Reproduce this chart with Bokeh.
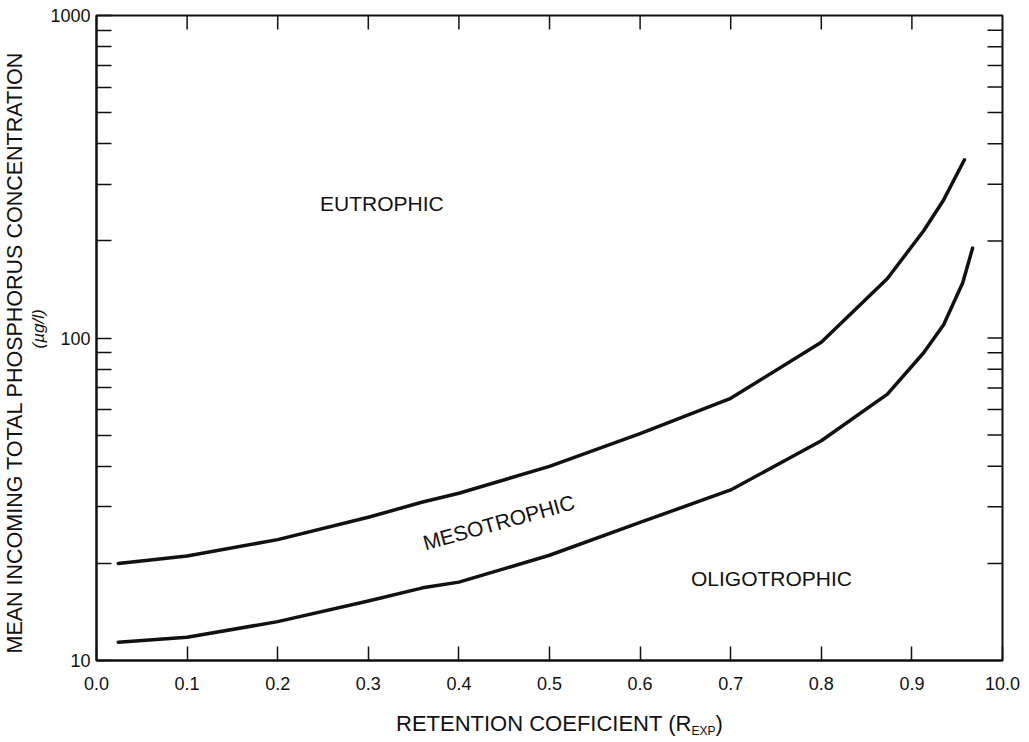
import math

from bokeh.plotting import figure
from bokeh.layouts import column
from bokeh.models import Div, FixedTicker, Label, Range1d, Title
from bokeh.embed import file_html
from bokeh.resources import INLINE

# Boundary curves: retention coefficient vs. mean incoming total P (ug/l)
retention_upper = [0.024, 0.1, 0.2, 0.3, 0.36, 0.4, 0.5, 0.6, 0.7, 0.8, 0.873, 0.913, 0.935, 0.958]
phosphorus_upper = [20.0, 21.1, 23.7, 27.8, 31.0, 33.0, 40.0, 50.5, 65.0, 97.0, 153.0, 215.0, 268.0, 357.0]

retention_lower = [0.024, 0.1, 0.2, 0.3, 0.36, 0.4, 0.5, 0.6, 0.7, 0.8, 0.873, 0.913, 0.935, 0.956, 0.967]
phosphorus_lower = [11.4, 11.8, 13.2, 15.3, 16.8, 17.5, 21.2, 26.8, 33.8, 48.0, 67.0, 90.0, 110.0, 148.0, 190.0]

# Axis ticks and labels
x_ticks = [0.0, 0.1, 0.2, 0.3, 0.4, 0.5, 0.6, 0.7, 0.8, 0.9, 1.0]
x_tick_labels = ["0.0", "0.1", "0.2", "0.3", "0.4", "0.5", "0.6", "0.7", "0.8", "0.9", "10.0"]
y_major = [10, 100, 1000]
y_tick_labels = ["10", "100", "1000"]
y_minor = [20, 30, 40, 50, 60, 70, 80, 90, 200, 300, 400, 500, 600, 700, 800, 900]

# Trophic zone names
zone_names = ["EUTROPHIC", "MESOTROPHIC", "OLIGOTROPHIC"]

INK = "#111111"
TICK_FONT = "Liberation Sans"
TEXT_FONT = "Liberation Sans"

X0, X1 = 0.0, 1.0
Y0, Y1 = 10, 1000

p = figure(
    width=1029, height=700,
    y_axis_type="log",
    x_range=Range1d(X0, X1), y_range=Range1d(Y0, Y1),
    output_backend="svg", toolbar_location=None,
    min_border_left=94, min_border_right=27,
    min_border_top=15, min_border_bottom=40,
    background_fill_color="white", border_fill_color="white",
)
p.xgrid.visible = False
p.ygrid.visible = False
p.outline_line_color = INK
p.outline_line_width = 2

# bottom axis
xb = p.xaxis[0]
xb.ticker = FixedTicker(ticks=x_ticks)
xb.major_label_overrides = {t: s for t, s in zip(x_ticks, x_tick_labels)}
xb.major_tick_in = 14
xb.major_tick_out = 0
xb.minor_tick_line_color = None
xb.axis_line_color = INK
xb.axis_line_width = 2
xb.major_tick_line_color = INK
xb.major_tick_line_width = 1.5
xb.major_label_text_font = TICK_FONT
xb.major_label_text_font_size = "18px"
xb.major_label_text_color = INK
xb.major_label_standoff = 16

# left axis
yl = p.yaxis[0]
yl.ticker = FixedTicker(ticks=y_major, minor_ticks=y_minor)
yl.major_label_overrides = {t: s for t, s in zip(y_major, y_tick_labels)}
yl.major_tick_in = 15
yl.major_tick_out = 0
yl.minor_tick_in = 15
yl.minor_tick_out = 0
yl.axis_line_color = INK
yl.axis_line_width = 2
yl.major_tick_line_color = INK
yl.minor_tick_line_color = INK
yl.major_tick_line_width = 1.5
yl.minor_tick_line_width = 1.5
yl.major_label_text_font = TICK_FONT
yl.major_label_text_font_size = "18px"
yl.major_label_text_color = INK
yl.major_label_standoff = 6

# mirrored inward ticks along the right and top edges of the frame
right_ticks = y_major[1:-1] + y_minor
p.ray(x=[X1] * len(right_ticks), y=right_ticks, length=15, length_units="screen",
      angle=math.pi, line_color=INK, line_width=1.5)
top_ticks = x_ticks[1:-1]
p.ray(x=top_ticks, y=[Y1] * len(top_ticks), length=14, length_units="screen",
      angle=-math.pi / 2, line_color=INK, line_width=1.5)

# boundary curves
p.line(retention_upper, phosphorus_upper, line_color=INK, line_width=3.5, line_cap="round", line_join="round")
p.line(retention_lower, phosphorus_lower, line_color=INK, line_width=3.5, line_cap="round", line_join="round")

# zone names
p.add_layout(Label(x=0.315, y=261, text=zone_names[0], text_align="center", text_baseline="middle",
                   text_font=TEXT_FONT, text_font_size="21px", text_color=INK))
p.add_layout(Label(x=0.444, y=26.8, text=zone_names[1], text_align="center", text_baseline="middle",
                   angle=0.27, text_font=TEXT_FONT, text_font_size="21px", text_color=INK))
p.add_layout(Label(x=0.745, y=17.9, text=zone_names[2], text_align="center", text_baseline="middle",
                   text_font=TEXT_FONT, text_font_size="21px", text_color=INK))

# y axis title: units line next to the tick labels, main line outside it
p.add_layout(Title(text="(\u00b5g/l)", align="left", offset=312, standoff=0,
                   text_font=TEXT_FONT, text_font_size="17px", text_font_style="italic",
                   text_color=INK), "left")
p.add_layout(Title(text="MEAN INCOMING TOTAL PHOSPHORUS CONCENTRATION", align="left", offset=7,
                   standoff=0, text_font=TEXT_FONT, text_font_size="21.5px",
                   text_font_style="normal", text_color=INK), "left")

# x axis title with its subscript, set as a text line under the plot
x_title = Div(
    text='RETENTION COEFICIENT (R<span style="font-size:12px; position:relative; top:4px;">EXP</span>)',
    width=1029, height=42,
    styles={
        "font-family": "'Liberation Sans'",
        "font-size": "22px",
        "line-height": "24px",
        "color": INK,
        "padding-left": "396px",
        "padding-top": "12px",
        "box-sizing": "border-box",
        "white-space": "nowrap",
        "background-color": "white",
        "margin": "0",
    },
)

layout = column(p, x_title, spacing=0)
layout.styles = {"background-color": "white"}

open("out.html", "w").write(file_html(layout, INLINE))
